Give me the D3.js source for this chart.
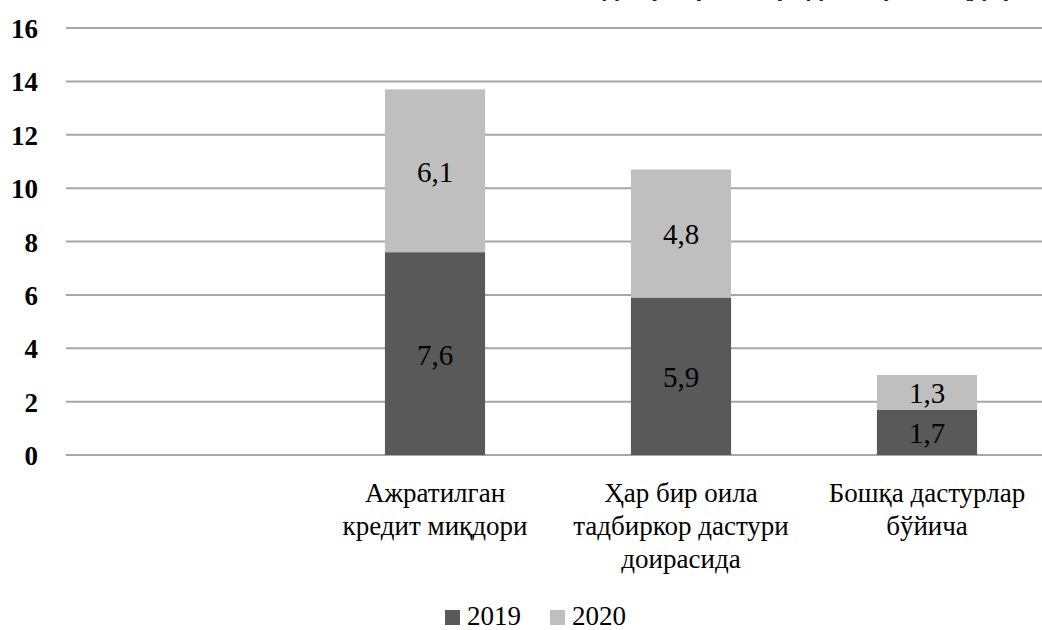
<!DOCTYPE html>
<html>
<head>
<meta charset="utf-8">
<script src="https://cdn.jsdelivr.net/npm/d3@7"></script>
<style>
  body { margin: 0; background: #fff; }
  svg { display: block; }
  text.serif { font-family: "Liberation Serif", "Tinos", "Times New Roman", serif; }
</style>
</head>
<body>
<div id="chart"></div>
<script>
// chart values
var categories = ["", "Ажратилган|кредит миқдори", "Ҳар бир оила|тадбиркор дастури|доирасида", "Бошқа дастурлар|бўйича"];
var series2019 = [0, 7.6, 5.9, 1.7];
var series2020 = [0, 6.1, 4.8, 1.3];
var seriesNames = ["2019", "2020"];
var yTicks = [0, 2, 4, 6, 8, 10, 12, 14, 16];

var svgWidth = 1042;
var svgHeight = 630;

var margin = { top: 28, right: -8, bottom: 175, left: 66 };
var width = svgWidth - margin.left - margin.right;
var height = svgHeight - margin.top - margin.bottom;

var colors = { "2019": "#595959", "2020": "#bfbfbf" };

var svg = d3.select("#chart")
  .append("svg")
    .attr("width", svgWidth)
    .attr("height", svgHeight);

// helper: serif text placed at x,y
function addText(parent, x, y, str, size, anchor, weight) {
  return parent.append("text")
    .attr("class", "serif")
    .attr("x", x)
    .attr("y", y)
    .attr("text-anchor", anchor || "middle")
    .attr("font-family", "Liberation Serif")
    .attr("font-size", size)
    .attr("font-weight", weight || "normal")
    .attr("fill", "#000")
    .text(str);
}

// cropped title at the very top (only descenders visible)
svg.append("text")
  .attr("x", 1050)
  .attr("y", -4)
  .attr("text-anchor", "end")
  .attr("font-family", "Liberation Sans")
  .attr("font-weight", "bold")
  .attr("font-size", 26)
  .attr("fill", "#262626")
  .text("Оила тадбиркорлик кредитлари миқдори (");

var chartGroup = svg.append("g")
  .attr("transform", `translate(${margin.left}, ${margin.top})`);

var xScale = d3.scaleBand()
  .domain(categories)
  .range([0, width])
  .paddingInner(0.593)
  .paddingOuter(0.2965);

var yScale = d3.scaleLinear()
  .domain([0, 16])
  .range([height, 0]);

// gridlines
chartGroup.selectAll("line.grid")
  .data(yTicks)
  .enter()
  .append("line")
  .attr("class", "grid")
  .attr("x1", 0)
  .attr("x2", width)
  .attr("y1", d => yScale(d))
  .attr("y2", d => yScale(d))
  .attr("stroke", "#a6a6a6")
  .attr("stroke-width", 2);

// y axis labels
yTicks.forEach(function(t) {
  addText(chartGroup, -28, yScale(t) + 10, t, 27, "end", "bold");
});

// stacked data
var rows = categories.map((c, i) => ({ cat: c, "2019": series2019[i], "2020": series2020[i] }));
var stacked = d3.stack().keys(seriesNames)(rows);

var layers = chartGroup.selectAll("g.layer")
  .data(stacked)
  .enter()
  .append("g")
  .attr("class", "layer")
  .attr("fill", d => colors[d.key]);

layers.selectAll("rect")
  .data(d => d.filter(p => p[1] - p[0] > 0))
  .enter()
  .append("rect")
  .attr("x", d => xScale(d.data.cat))
  .attr("y", d => yScale(d[1]))
  .attr("width", xScale.bandwidth())
  .attr("height", d => yScale(d[0]) - yScale(d[1]));

// value labels
stacked.forEach(function(layer) {
  layer.filter(p => p[1] - p[0] > 0).forEach(function(d) {
    var label = d3.format(".1f")(d[1] - d[0]).replace(".", ",");
    addText(chartGroup,
      xScale(d.data.cat) + xScale.bandwidth() / 2,
      (yScale(d[0]) + yScale(d[1])) / 2 + 11,
      label, 29);
  });
});

// category labels
categories.forEach(function(c) {
  c.split("|").forEach(function(l, i) {
    addText(chartGroup, xScale(c) + xScale.bandwidth() / 2, height + 47 + i * 33, l, 27);
  });
});

// legend
var legend = svg.append("g").attr("transform", "translate(445, 610)");
var legendX = [0, 105];
seriesNames.forEach(function(s, i) {
  legend.append("rect")
    .attr("x", legendX[i])
    .attr("y", 0)
    .attr("width", 15)
    .attr("height", 15)
    .attr("fill", colors[s]);
  addText(legend, legendX[i] + 22, 15, s, 27, "start");
});
</script>
</body>
</html>
